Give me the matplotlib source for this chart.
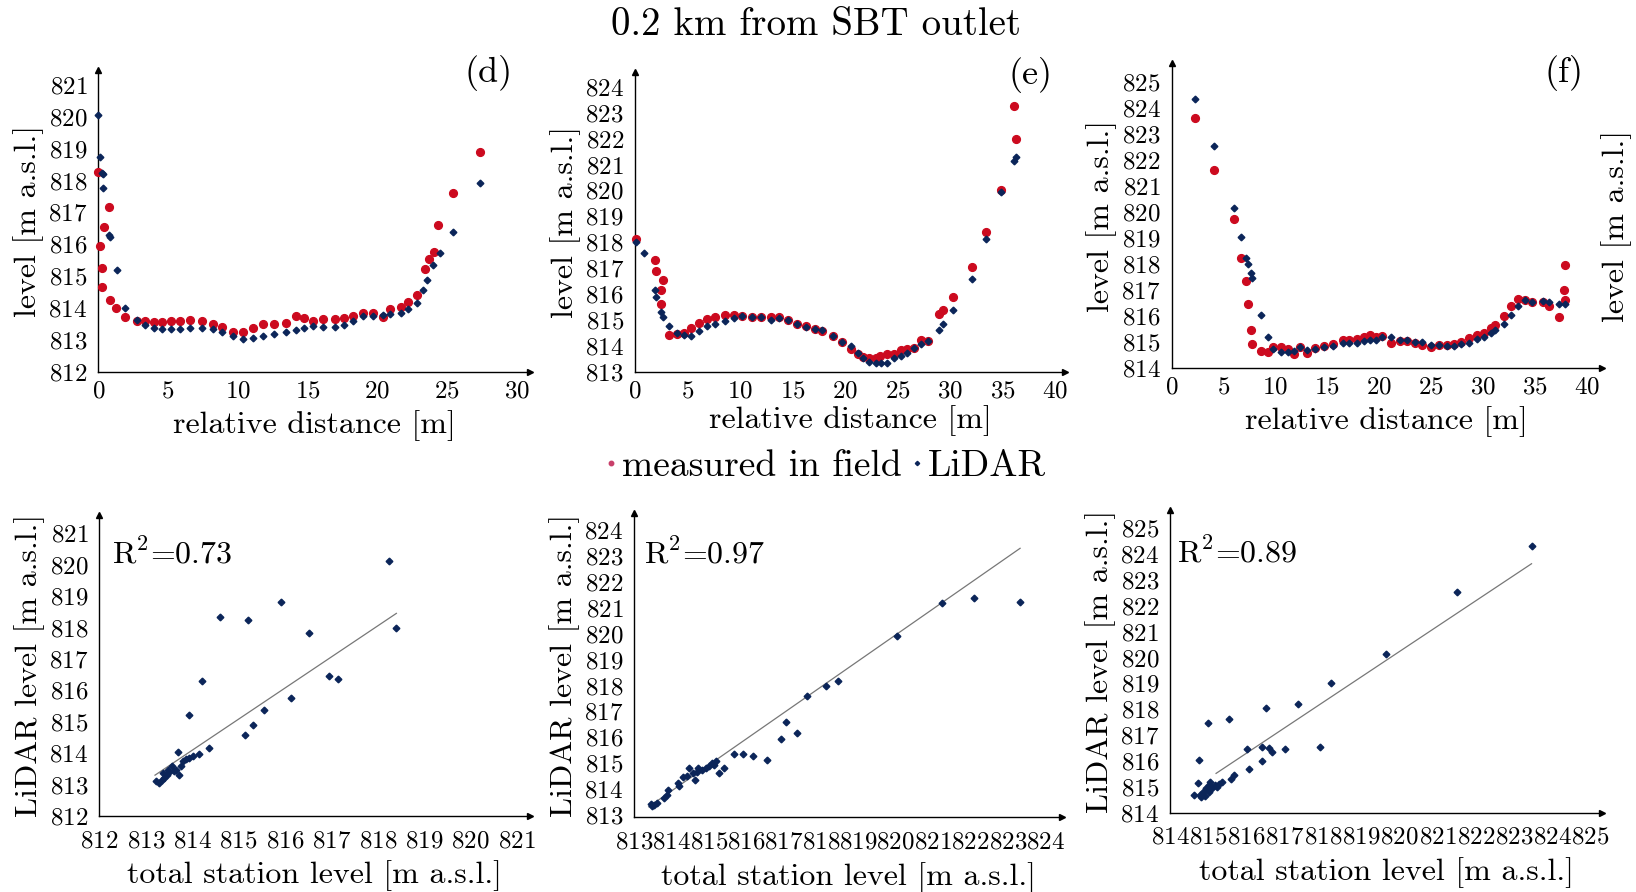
import numpy as np
import matplotlib.pyplot as plt
from matplotlib.lines import Line2D

# 0. 字体：接近 LaTeX 的 Computer Modern
plt.rcParams["font.family"] = "serif"
plt.rcParams["font.serif"] = ["cmr10", "DejaVu Serif"]
plt.rcParams["mathtext.fontset"] = "cm"
plt.rcParams["axes.formatter.use_mathtext"] = True
plt.rcParams["axes.unicode_minus"] = False

RED = "#cc0a1f"
BLUE = "#0b2559"

# 1. 横断面数据 (d)
d_field_x = [0.0, 0.15, 0.27, 0.27, 0.4, 0.77, 0.82, 1.27, 1.89, 2.8, 3.38, 4.0, 4.6, 5.2,
             5.84, 6.6, 7.45, 8.2, 8.84, 9.63, 10.38, 11.08, 11.8, 12.6, 13.43, 14.15, 14.78,
             15.4, 16.14, 17.0, 17.63, 18.25, 19.0, 19.7, 20.44, 20.93, 21.68, 22.18, 22.87,
             23.42, 23.74, 24.09, 24.36, 25.4, 27.34]
d_field_y = [818.28, 815.95, 815.24, 814.65, 816.55, 817.18, 814.25, 813.99, 813.73, 813.6,
             813.59, 813.55, 813.55, 813.59, 813.6, 813.62, 813.6, 813.5, 813.41, 813.26,
             813.26, 813.38, 813.49, 813.49, 813.54, 813.76, 813.67, 813.6, 813.64, 813.64,
             813.7, 813.76, 813.83, 813.83, 813.73, 813.96, 814.04, 814.18, 814.41, 815.21,
             815.53, 815.77, 816.6, 817.6, 818.9]
d_lidar_x = [0.0, 0.15, 0.27, 0.32, 0.37, 0.77, 0.82, 1.32, 1.89, 2.8, 3.38, 4.0, 4.6, 5.2,
             5.84, 6.6, 7.45, 8.2, 8.84, 9.63, 10.38, 11.08, 11.8, 12.6, 13.43, 14.15, 14.78,
             15.4, 16.14, 17.0, 17.63, 18.25, 19.0, 19.7, 20.44, 20.93, 21.68, 22.18, 22.87,
             23.29, 23.54, 23.96, 24.46, 25.4, 27.39]
d_lidar_y = [820.06, 818.75, 818.23, 818.2, 817.76, 816.29, 816.22, 815.19, 814.01, 813.62,
             813.47, 813.36, 813.33, 813.33, 813.33, 813.36, 813.38, 813.33, 813.26, 813.12,
             813.03, 813.05, 813.12, 813.18, 813.26, 813.31, 813.38, 813.43, 813.41, 813.41,
             813.47, 813.6, 813.76, 813.76, 813.78, 813.8,813.85, 813.96, 814.15, 814.58,
             814.88, 815.35, 815.74, 816.4, 817.93]

# 2. 横断面数据 (e)
e_field_x = [0.07, 1.95, 2.05, 2.64, 2.48, 2.48, 3.2, 4.03, 4.69, 5.35, 6.07, 6.9, 7.66, 8.58,
             9.47, 10.2, 11.12, 12.0, 12.94, 13.76, 14.59, 15.41, 16.34, 17.13, 17.82, 18.88,
             19.7, 20.59, 21.29, 21.75, 22.34, 23.0, 23.33, 23.99, 24.65, 25.31, 25.9, 26.57,
             27.23, 27.89, 28.94, 29.37, 30.26, 32.08, 33.4, 34.88, 36.1, 36.27]
e_field_y = [818.12, 817.31, 816.9, 816.54, 816.16, 815.62, 814.41, 814.45, 814.5, 814.69,
             814.88, 815.02, 815.11, 815.2, 815.2, 815.15, 815.11, 815.11, 815.11, 815.11,
             815.01, 814.83, 814.75, 814.66, 814.56, 814.38, 814.15, 813.87, 813.7, 813.55,
             813.51, 813.51, 813.6, 813.67, 813.67, 813.83, 813.87, 813.92, 814.22, 814.18,
             815.24, 815.37, 815.9, 817.03, 818.4, 820.0, 823.27, 821.99]
e_lidar_x = [0.07, 0.83, 1.95, 2.05, 2.44, 2.64, 3.2, 4.03, 4.69, 5.35, 6.07, 6.9, 7.66, 8.58,
             9.47, 10.2, 11.12, 12.0, 12.94, 13.76, 14.59, 15.41, 16.34, 17.13, 17.82, 18.88,
             19.7, 20.59, 21.29, 21.75, 22.34, 23.0, 23.4, 23.99, 24.65, 25.31, 25.9, 26.57,
             27.23, 27.89, 28.94, 29.37, 30.26, 32.08, 33.4, 34.88, 36.1, 36.27]
e_lidar_y = [817.99, 817.6, 816.16, 815.9, 815.3, 815.11, 814.75, 814.5, 814.41, 814.37,
             814.57, 814.75, 814.83, 814.96, 815.07, 815.15, 815.11, 815.11, 815.01, 815.09,
             815.01, 814.83, 814.73, 814.66, 814.6, 814.38, 814.15, 814.0, 813.73, 813.51,
             813.38, 813.35, 813.32, 813.35, 813.51, 813.6, 813.73, 813.92, 814.05, 814.18,
             814.62, 814.83, 815.39, 816.58, 818.14, 819.95, 821.15, 821.28]

# 3. 横断面数据 (f)
f_field_x = [2.25, 4.05, 6.05, 6.65, 7.21, 7.39, 7.63, 7.74, 8.58, 9.29, 9.74, 10.55, 11.22,
             11.75, 12.38, 13.01, 13.79, 14.67, 15.55, 16.5, 17.13, 17.9, 18.54, 19.07, 19.66,
             20.3, 21.17, 21.98, 22.69, 23.46, 24.16, 25.04, 25.75, 26.56, 27.26, 27.86, 28.67,
             29.44, 30.14, 30.74, 31.2, 32.01, 32.68, 33.42, 34.09, 34.72, 35.77, 36.37, 37.35,
             37.81, 37.88, 37.88]
f_field_y = [823.62, 821.59, 819.72, 818.22, 817.34, 816.48, 815.48, 814.93, 814.68, 814.64,
             814.8, 814.8, 814.75, 814.55, 814.8, 814.58, 814.77, 814.87, 814.93, 815.09,
             815.09, 815.13, 815.2, 815.26, 815.2, 815.25, 814.96, 815.05, 815.03, 814.96,
             814.9, 814.8, 814.9, 814.9, 814.93, 815.0, 815.18, 815.29, 815.35, 815.54, 815.67,
             816.02, 816.38, 816.66, 816.61, 816.53, 816.53, 816.38, 815.97, 817.0, 817.95,
             816.61]
f_lidar_x = [2.25, 4.05, 6.05, 6.65, 7.21, 7.39, 7.63, 7.74, 8.58, 9.29, 9.74, 10.55, 11.22,
             11.75, 12.38, 13.01, 13.79, 14.67, 15.55, 16.5, 17.13, 17.9, 18.54, 19.07, 19.66,
             20.3, 21.17, 21.98, 22.69, 23.46, 24.16, 25.04, 25.75, 26.56, 27.26, 27.86, 28.67,
             29.44, 30.14, 30.74, 31.2, 32.01, 32.68, 33.42, 34.09, 34.72, 35.77, 36.37, 37.35,
             37.88]
f_lidar_y = [824.32, 822.53, 820.14, 819.02, 818.22, 818.01, 817.64, 817.47, 816.06, 815.2,
             814.75, 814.64, 814.64, 814.68, 814.8, 814.71, 814.75, 814.8, 814.87, 814.99,
             814.99, 814.99, 815.03, 815.07, 815.09, 815.2, 815.22, 815.09, 815.07, 815.0,
             815.0, 814.9, 814.9, 814.84, 814.84, 814.93, 814.96, 815.12, 815.2, 815.35,
             815.48, 815.71, 816.06, 816.38, 816.61, 816.53, 816.57, 816.55, 816.48, 816.48]

# 4. 散点对比数据：全站仪 vs LiDAR
sd_station = [818.25, 815.92, 814.61, 815.21, 816.52, 818.39, 814.22, 816.94, 817.14, 816.13,
              815.55, 813.94, 815.32, 815.14, 814.37, 814.15, 813.7, 813.23, 813.28, 813.34,
              813.4, 813.46, 813.51, 813.57, 813.61, 813.66, 813.72, 813.76, 813.81, 813.87,
              813.93, 814.02, 813.38, 813.49]
sd_lidar = [820.13, 818.81, 818.32, 818.25, 817.82, 818.0, 816.29, 816.45, 816.37, 815.76,
            815.39, 815.23, 814.89, 814.59, 814.17, 813.96, 814.04, 813.11, 813.04, 813.16,
            813.22, 813.32, 813.4, 813.59, 813.43, 813.48, 813.32, 813.59, 813.75, 813.8,
            813.85, 813.91, 813.38, 813.48]
sd_fit_x = [813.2, 818.4]
sd_fit_y = [813.3, 818.45]

se_station = [823.33, 822.09, 821.24, 820.03, 818.45, 818.13, 817.62, 817.05, 817.35, 816.93,
              816.56, 816.18, 815.92, 815.67, 815.41, 815.27, 815.18, 815.14, 815.07, 815.0,
              814.91, 814.81, 814.69, 814.58, 814.46, 814.4, 814.31, 814.19, 814.17, 813.89,
              813.87, 813.8, 813.62, 813.54, 813.48, 813.45, 814.63, 814.7]
se_lidar = [821.21, 821.37, 821.17, 819.92, 818.19, 817.99, 817.61, 816.6, 816.18, 815.92,
            815.12, 815.29, 815.36, 815.34, 814.83, 814.61, 815.08, 814.93, 814.99, 814.9,
            814.83, 814.74, 814.67, 814.61, 814.8, 814.5, 814.45, 814.13, 814.22, 813.97,
            813.77, 813.67, 813.45, 813.39, 813.36, 813.41, 814.35, 814.8]
se_fit_x = [813.39, 823.33]
se_fit_y = [813.32, 823.3]

sf_station = [823.46, 821.51, 819.66, 818.22, 817.34, 816.52, 815.53, 814.99, 814.75, 816.01,
              816.4, 816.59, 816.67, 817.0, 817.93, 816.4, 816.06, 815.68, 815.58, 814.72,
              814.62, 814.79, 814.86, 814.94, 815.01, 815.05, 815.1, 815.17, 815.23, 815.29,
              815.36, 814.91, 815.01, 814.81]
sf_lidar = [824.32, 822.52, 820.13, 819.01, 818.21, 818.04, 817.61, 817.48, 816.04, 816.45,
            816.55, 816.52, 816.36, 816.45, 816.53, 816.01, 815.69, 815.46, 815.29, 815.16,
            814.68, 814.68, 814.81, 814.94, 815.07, 815.2, 814.94, 815.07, 815.0, 815.11,
            815.2, 814.65, 814.81, 814.59]
sf_fit_x = [815.2, 823.46]
sf_fit_y = [815.52, 823.63]

r2_values = ["0.73", "0.97", "0.89"]
panel_tags = ["(d)", "(e)", "(f)"]


# 5. 带箭头坐标轴
def arrow_axes(ax, xlim, ylim, xticks, yticks, xpad):
    ax.set_xlim(*xlim); ax.set_ylim(*ylim)
    ax.set_xticks(xticks); ax.set_yticks(yticks)
    for side in ["top", "right"]:
        ax.spines[side].set_visible(False)
    for side in ["left", "bottom"]:
        ax.spines[side].set_linewidth(1.0)
    ax.tick_params(length=0, labelsize=18)
    ax.tick_params(axis="y", pad=8)
    ax.tick_params(axis="x", pad=xpad)
    ax.plot(1, 0, ">", color="k", ms=5, transform=ax.transAxes, clip_on=False)
    ax.plot(0, 1, "^", color="k", ms=5, transform=ax.transAxes, clip_on=False)


fig = plt.figure(figsize=(16.36, 8.92), dpi=100)

top_boxes = [[0.0601, 0.5833, 0.2639, 0.3382],
             [0.3881, 0.5833, 0.2628, 0.3363],
             [0.7162, 0.5871, 0.2628, 0.3419]]
bottom_boxes = [[0.0607, 0.0852, 0.2633, 0.3374],
                [0.3877, 0.0837, 0.2614, 0.3408],
                [0.7153, 0.0889, 0.2638, 0.3394]]

profiles = [(d_field_x, d_field_y, d_lidar_x, d_lidar_y),
            (e_field_x, e_field_y, e_lidar_x, e_lidar_y),
            (f_field_x, f_field_y, f_lidar_x, f_lidar_y)]
top_limits = [((0, 30.95), (812, 821.47), range(0, 31, 5), range(812, 822)),
              ((0, 40.95), (813, 824.58), range(0, 41, 5), range(813, 825)),
              ((0, 41.45), (814, 825.7), range(0, 41, 5), range(814, 826))]
top_xlabelpad = [6, 2, 5]

# 6. 上排：横断面
for i, box in enumerate(top_boxes):
    ax = fig.add_axes(box)
    fx, fy, lx, ly = profiles[i]
    ax.plot(fx, fy, "o", color=RED, ms=5.6, clip_on=False, zorder=3)
    ax.plot(lx, ly, "D", color=BLUE, ms=3.4, clip_on=False, zorder=4)
    xl, yl, xt, yt = top_limits[i]
    arrow_axes(ax, xl, yl, xt, yt, xpad=6)
    ax.set_ylabel("level [m a.s.l.]", fontsize=23, labelpad=3)
    ax.set_xlabel("relative distance [m]", fontsize=23, labelpad=top_xlabelpad[i])

scatters = [(sd_station, sd_lidar, sd_fit_x, sd_fit_y),
            (se_station, se_lidar, se_fit_x, se_fit_y),
            (sf_station, sf_lidar, sf_fit_x, sf_fit_y)]
bottom_limits = [((812, 821.28), (812, 821.58), range(812, 822), range(812, 822)),
                 ((813, 824.45), (812.91, 824.65), range(813, 825), range(813, 825)),
                 ((814, 825.3), (814, 825.71), range(814, 826), range(814, 826))]
r2_pos = [(0.029, 0.84), (0.022, 0.836), (0.015, 0.829)]

# 7. 下排：散点与拟合线
for i, box in enumerate(bottom_boxes):
    ax = fig.add_axes(box)
    sx, sy, fx, fy = scatters[i]
    ax.plot(fx, fy, "-", color="#777777", lw=0.9, zorder=2)
    ax.plot(sx, sy, "D", color=BLUE, ms=3.4, clip_on=False, zorder=3)
    xl, yl, xt, yt = bottom_limits[i]
    arrow_axes(ax, xl, yl, xt, yt, xpad=10)
    ax.set_ylabel("LiDAR level [m a.s.l.]", fontsize=23, labelpad=3)
    ax.set_xlabel("total station level [m a.s.l.]", fontsize=23, labelpad=6)
    ax.text(r2_pos[i][0], r2_pos[i][1], "R$^2$=" + r2_values[i], transform=ax.transAxes,
            fontsize=23, ha="left", va="baseline")

# 8. 标题、面板编号、图例
fig.text(0.4985, 0.972, "0.2 km from SBT outlet", fontsize=28, ha="center", va="center")
tag_pos = [(0.2989, 0.918), (0.6296, 0.916), (0.956, 0.918)]
for tag, (tx, ty) in zip(panel_tags, tag_pos):
    fig.text(tx, ty, tag, fontsize=26, ha="center", va="center")
fig.text(0.9884, 0.747, "level [m a.s.l.]", fontsize=23, rotation=90, ha="center", va="center")

handles = [Line2D([], [], ls="none", marker="o", color="#c8406a", ms=3.2),
           Line2D([], [], ls="none", marker="D", color=BLUE, ms=2.2)]
fig.legend(handles, ["measured in field", "LiDAR"], loc="center", bbox_to_anchor=(0.504, 0.477),
           ncol=2, frameon=False, fontsize=27, handlelength=0.4, handletextpad=0.1,
           columnspacing=0.2, borderpad=0)

fig.savefig("out.png", dpi=100)
